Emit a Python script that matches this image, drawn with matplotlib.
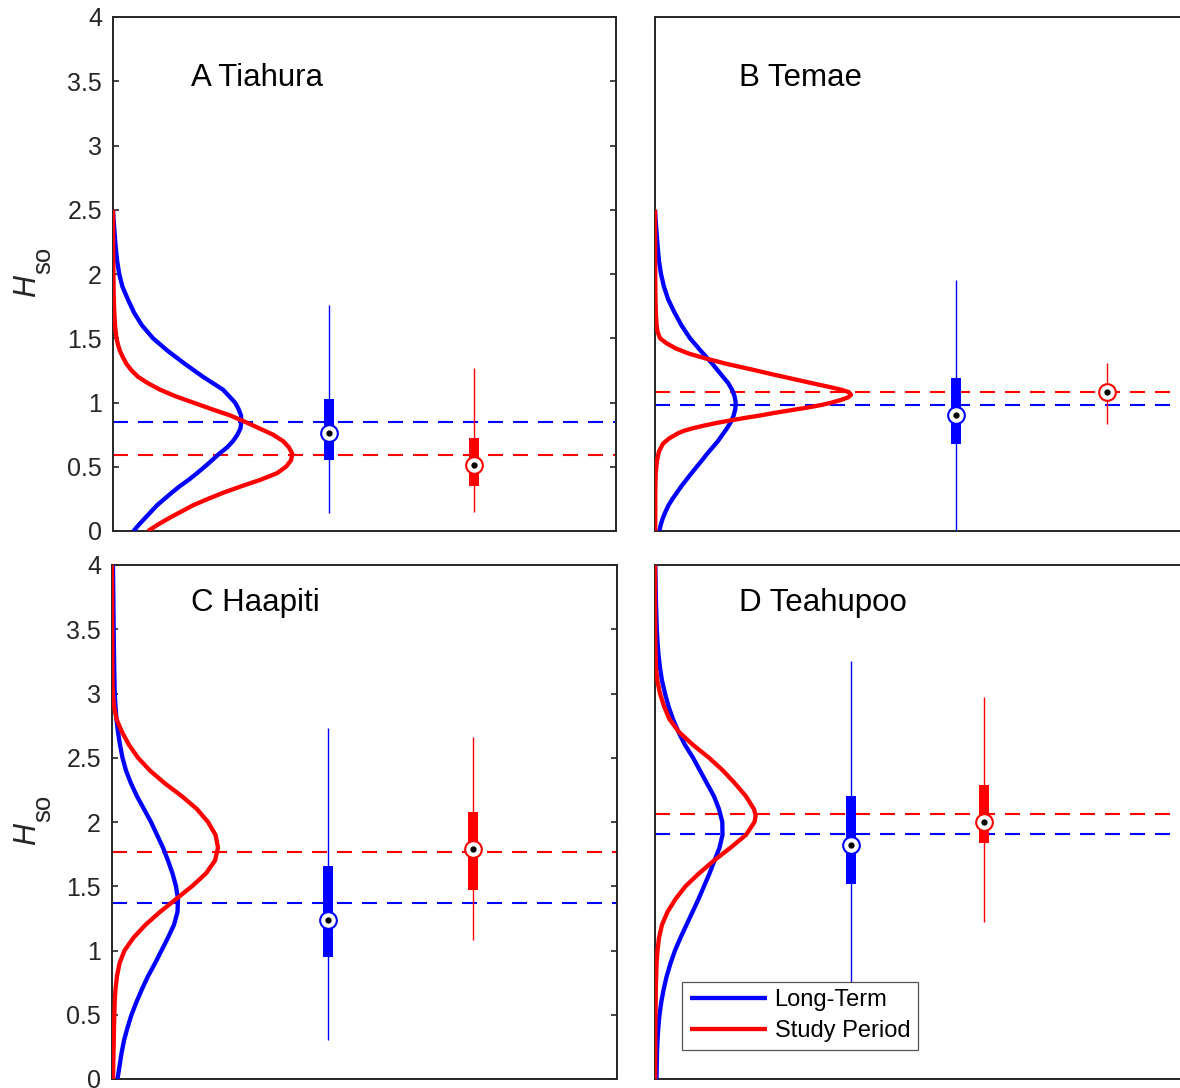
import matplotlib
matplotlib.use("Agg")
import matplotlib.pyplot as plt

plt.rcParams['font.family'] = ['Liberation Sans', 'DejaVu Sans']

BLUE = (0, 0, 1)
RED = (1, 0, 0)
AXC = '#262626'

panel_titles = ['A Tiahura', 'B Temae', 'C Haapiti', 'D Teahupoo']
legend_labels = ['Long-Term', 'Study Period']
ylabel_main = 'H'
ylabel_sub = 'so'
ytick_vals = [0, 0.5, 1, 1.5, 2, 2.5, 3, 3.5, 4]
ytick_labels = ['0', '0.5', '1', '1.5', '2', '2.5', '3', '3.5', '4']

# distribution curves: H levels and curve width (density, arbitrary units)
a_lt_h = [2.50, 2.40, 2.30, 2.20, 2.10, 2.00, 1.90, 1.80, 1.70, 1.60, 1.50, 1.40, 1.30, 1.20, 1.10, 1.00,
          0.95, 0.90, 0.85, 0.80, 0.75, 0.70, 0.65, 0.60, 0.55, 0.50, 0.45, 0.40, 0.35, 0.30, 0.25, 0.20,
          0.15, 0.10, 0.05, 0.00]
a_lt_x = [0, 0.8, 1.8, 2.8, 4.2, 6.2, 9.5, 15, 21, 29, 40, 55, 72, 90, 110, 122,
          125.5, 128, 128.3, 127.5, 124.5, 120, 114, 106, 99, 91.7, 84, 76, 67, 59, 51.5, 44,
          38, 32, 26, 20.5]
a_sp_h = [2.50, 2.20, 2.00, 1.80, 1.70, 1.60, 1.50, 1.45, 1.40, 1.35, 1.30, 1.25, 1.20, 1.15, 1.10, 1.05,
          1.00, 0.95, 0.90, 0.85, 0.80, 0.75, 0.70, 0.65, 0.60, 0.55, 0.50, 0.45, 0.40, 0.35, 0.30, 0.25,
          0.20, 0.15, 0.10, 0.05, 0.00]
a_sp_x = [0, 0.2, 0.4, 0.8, 1.3, 2.0, 3.5, 5, 7, 10, 13.5, 18.5, 25, 35, 47, 62,
          80, 98, 117, 132, 146, 160, 170, 176, 179.3, 178, 173, 164, 148, 129, 111, 95,
          80, 68, 56, 45, 35]

b_lt_h = [2.50, 2.40, 2.30, 2.20, 2.10, 2.00, 1.90, 1.80, 1.70, 1.60, 1.50, 1.40, 1.30, 1.20, 1.15, 1.10,
          1.05, 1.00, 0.95, 0.90, 0.85, 0.80, 0.75, 0.70, 0.65, 0.60, 0.55, 0.50, 0.45, 0.40, 0.35, 0.30,
          0.25, 0.20, 0.15, 0.10, 0.05, 0.00]
b_lt_x = [0, 0.8, 1.8, 2.8, 4, 6, 9, 13.3, 19.5, 26.5, 35, 46, 57.5, 68, 73.3, 77,
          79.5, 80.7, 80.3, 78.7, 76, 72, 67.5, 63, 57.5, 52, 47, 41.7, 36.5, 31.5, 26.5, 22,
          17.5, 13.5, 10.5, 7.8, 5.8, 4.3]
b_sp_h = [2.50, 2.00, 1.80, 1.70, 1.60, 1.55, 1.50, 1.46, 1.42, 1.38, 1.34, 1.30, 1.26, 1.22, 1.18, 1.14,
          1.12, 1.10, 1.08, 1.06, 1.04, 1.02, 1.00, 0.98, 0.96, 0.94, 0.92, 0.90, 0.88, 0.86, 0.84, 0.82,
          0.80, 0.78, 0.76, 0.72, 0.68, 0.62, 0.55, 0.45, 0.30, 0.00]
b_sp_x = [0, 0.2, 0.5, 0.9, 1.6, 2.6, 5, 11.7, 21, 34, 52, 72, 95, 117, 140, 163,
          175, 186, 194, 196, 193, 186, 177, 166, 152, 136, 120, 106, 90, 75, 61, 49,
          38, 29, 23, 14, 8, 4, 2, 0.7, 0.3, 0.2]

c_lt_h = [4.00, 3.50, 3.20, 3.00, 2.90, 2.80, 2.70, 2.60, 2.50, 2.40, 2.30, 2.20, 2.10, 2.00, 1.90, 1.80,
          1.70, 1.60, 1.50, 1.40, 1.30, 1.20, 1.10, 1.00, 0.90, 0.80, 0.70, 0.60, 0.50, 0.40, 0.30, 0.20,
          0.10, 0.00]
c_lt_x = [1, 1.7, 2.2, 2.7, 3.5, 4.5, 6, 8, 10.5, 14, 19, 25, 32, 39, 45, 51,
          56, 60.5, 64, 66, 65.5, 62, 56, 49.5, 43, 36, 30, 24.5, 19.5, 15.5, 12, 9.5,
          7.5, 5.5]
c_sp_h = [4.00, 3.20, 3.00, 2.90, 2.80, 2.70, 2.60, 2.50, 2.40, 2.30, 2.20, 2.10, 2.00, 1.90, 1.80, 1.70,
          1.60, 1.50, 1.40, 1.30, 1.20, 1.10, 1.00, 0.90, 0.80, 0.70, 0.60, 0.40, 0.20, 0.00]
c_sp_x = [0, 0.3, 0.8, 2, 4.5, 10, 17, 26, 38, 53, 70, 85, 96, 103.5, 106, 103,
          94, 80, 64, 48, 33.5, 21.5, 12.5, 7.5, 5, 3.5, 2.7, 2, 1.5, 1]

d_lt_h = [4.00, 3.70, 3.50, 3.40, 3.30, 3.20, 3.10, 3.00, 2.90, 2.80, 2.70, 2.60, 2.50, 2.40, 2.30, 2.20,
          2.10, 2.00, 1.90, 1.80, 1.70, 1.60, 1.50, 1.40, 1.30, 1.20, 1.10, 1.00, 0.90, 0.80, 0.70, 0.60,
          0.50, 0.40, 0.30, 0.20, 0.00]
d_lt_x = [0.3, 1, 1.8, 2.5, 3.5, 5, 7, 10, 13.5, 18, 23.5, 30, 38, 45, 52, 59,
          64, 67.3, 67.5, 64.5, 59.5, 54.5, 49, 43.5, 37.5, 31.5, 25.5, 20, 15.5, 11.7, 8.7, 6.3,
          4.5, 3.3, 2.5, 2, 1.5]
d_sp_h = [4.00, 3.60, 3.40, 3.20, 3.10, 3.00, 2.90, 2.80, 2.70, 2.60, 2.50, 2.40, 2.30, 2.20, 2.10, 2.05,
          2.00, 1.90, 1.80, 1.70, 1.60, 1.50, 1.40, 1.30, 1.20, 1.10, 1.00, 0.90, 0.70, 0.40, 0.00]
d_sp_x = [0, 0.1, 0.3, 1, 2.3, 5, 9, 14.5, 24, 38, 54, 68, 80, 91, 99, 100.7,
          99.5, 91, 75.5, 59, 44, 30.5, 20.5, 12.5, 7, 4, 2.5, 1.6, 0.8, 0.4, 0.1]

# box summaries: position, low whisker, q1, centre marker, q3, high whisker
a_lt_box = [216, 0.14, 0.55, 0.76, 1.03, 1.76]
a_sp_box = [361, 0.15, 0.35, 0.51, 0.72, 1.27]
b_lt_box = [301, 0.00, 0.68, 0.90, 1.19, 1.95]
b_sp_box = [452, 0.83, 1.05, 1.08, 1.12, 1.31]
c_lt_box = [216, 0.30, 0.95, 1.24, 1.66, 2.73]
c_sp_box = [361, 1.08, 1.47, 1.79, 2.08, 2.66]
d_lt_box = [196, 0.60, 1.52, 1.82, 2.20, 3.25]
d_sp_box = [329, 1.22, 1.84, 2.00, 2.29, 2.97]

# mean levels (dashed): long-term, study period
a_means = [0.85, 0.59]
b_means = [0.98, 1.08]
c_means = [1.37, 1.77]
d_means = [1.91, 2.06]

W, H = 1180, 1088
fig = plt.figure(figsize=(W / 100, H / 100), dpi=100)

def px_axes(l, t, r, b):
    return fig.add_axes([l / W, 1 - b / H, (r - l) / W, (b - t) / H])

panels = [
    dict(rect=(113, 17, 616, 531), lt=(a_lt_h, a_lt_x), sp=(a_sp_h, a_sp_x), boxes=(a_lt_box, a_sp_box), means=a_means, left=True, title_y=3.463, title_x=78),
    dict(rect=(655, 17, 1200, 531), lt=(b_lt_h, b_lt_x), sp=(b_sp_h, b_sp_x), boxes=(b_lt_box, b_sp_box), means=b_means, left=False, title_y=3.463, title_x=84),
    dict(rect=(112, 565, 617, 1079), lt=(c_lt_h, c_lt_x), sp=(c_sp_h, c_sp_x), boxes=(c_lt_box, c_sp_box), means=c_means, left=True, title_y=3.645, title_x=79),
    dict(rect=(655, 565, 1200, 1079), lt=(d_lt_h, d_lt_x), sp=(d_sp_h, d_sp_x), boxes=(d_lt_box, d_sp_box), means=d_means, left=False, title_y=3.645, title_x=84),
]

for i, p in enumerate(panels):
    l, t, r, b = p['rect']
    ax = px_axes(l, t, r, b)
    ax.set_xlim(0, r - l)
    ax.set_ylim(0, 4)
    for s in ax.spines.values():
        s.set_color(AXC)
        s.set_linewidth(1.4)
    ax.set_xticks([])
    if p['left']:
        ax.set_yticks(ytick_vals)
        ax.set_yticklabels(ytick_labels)
        ax.tick_params(axis='y', direction='in', length=4, width=1.2, color=AXC,
                       labelcolor=AXC, labelsize=18, pad=8, right=True)
        # y label: italic H with upright subscript
        fig.text(35 / W, 1 - (t + 280) / H, ylabel_main, rotation=90, rotation_mode='anchor',
                 ha='left', va='baseline', fontsize=22, fontstyle='italic', color=AXC)
        fig.text(50 / W, 1 - (t + 257) / H, ylabel_sub, rotation=90, rotation_mode='anchor',
                 ha='left', va='baseline', fontsize=18.5, color=AXC)
    else:
        ax.set_yticks([])

    # dashed mean lines
    for m, c in zip(p['means'], (BLUE, RED)):
        ax.axhline(m, color=c, lw=1.5, ls=(0, (7.2, 4.8)), zorder=2)

    # boxes
    for bx, c in zip(p['boxes'], (BLUE, RED)):
        x, lo, q1, cen, q3, hi = bx
        ax.vlines(x, lo, hi, color=c, lw=1.0, zorder=3)
        ax.vlines(x, q1, q3, color=c, lw=7.2, zorder=3, capstyle='butt')
        ax.plot([x], [cen], 'o', ms=12, mfc='white', mec=c, mew=1.5, zorder=4)
        ax.plot([x], [cen], 'o', ms=3.5, color='black', zorder=5)

    # distributions
    hl, = ax.plot(p['lt'][1], p['lt'][0], color=BLUE, lw=3.1, zorder=6,
                  solid_joinstyle='round', solid_capstyle='butt')
    hs, = ax.plot(p['sp'][1], p['sp'][0], color=RED, lw=3.1, zorder=6,
                  solid_joinstyle='round', solid_capstyle='butt')

    ax.text(p['title_x'], p['title_y'], panel_titles[i], fontsize=22.5, color='black',
            ha='left', va='baseline')

    if i == 3:
        leg = ax.legend([hl, hs], legend_labels, loc='lower left',
                        bbox_to_anchor=((682 - l) / (r - l), (b - 1050) / (b - t)),
                        borderaxespad=0, fontsize=17, handlelength=3.3,
                        handletextpad=0.3, borderpad=0.32, labelspacing=0.38,
                        fancybox=False, framealpha=1, edgecolor='#555555')
        leg.get_frame().set_linewidth(0.9)
        leg.set_zorder(10)

fig.savefig('out.png', dpi=100)
